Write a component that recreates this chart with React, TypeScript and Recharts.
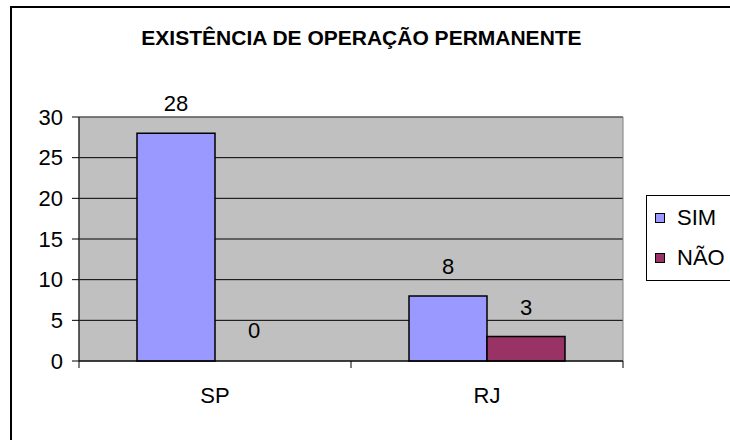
import { Bar, BarChart, CartesianGrid, Cell, LabelList, Legend, ReferenceArea, XAxis, YAxis } from "recharts"

// values

const categories = ["SP", "RJ"]
const simValues = [28, 8]
const naoValues = [0, 3]
const yTicks = [0, 5, 10, 15, 20, 25, 30]
const seriesNames = ["SIM", "NÃO"]
const seriesColors = ["#9999FF", "#993366"]
const title = "EXISTÊNCIA DE OPERAÇÃO PERMANENTE"

const data = categories.map((name, i) => ({ name, sim: simValues[i], nao: naoValues[i] }))

const font = '"Liberation Sans", Arial, sans-serif'

const W = 730
const H = 440
const margin = { top: 117, right: 107, left: 0, bottom: 0 }
const yAxisWidth = 79
const band = (W - margin.left - margin.right - yAxisWidth) / categories.length
const labelGap = 26

// category label plus Excel style tick marks between the categories
const CategoryTick = (props: any) => {
  const { x, y, payload, index } = props
  const axisY = y - labelGap
  return (
    <g>
      <line x1={x - band / 2} x2={x - band / 2} y1={axisY} y2={axisY + 7} stroke="#000" />
      {index === categories.length - 1 && (
        <line x1={x + band / 2} x2={x + band / 2} y1={axisY} y2={axisY + 7} stroke="#000" />
      )}
      <text x={x} y={y} dy="0.71em" textAnchor="middle" fontSize={22} fill="#000">
        {payload.value}
      </text>
    </g>
  )
}

const ValueLabel = (props: any) => {
  const { x, y, width, value } = props
  return (
    <text x={x + width / 2} y={y - 22} textAnchor="middle" fontSize={22} fill="#000">
      {String(value)}
    </text>
  )
}

// the legend box runs off the right edge of the picture
const renderLegend = () => (
  <div
    style={{
      borderTop: "1px solid #000",
      borderLeft: "1px solid #000",
      borderBottom: "1px solid #000",
      background: "#fff",
      width: 90,
      height: 86,
      boxSizing: "border-box",
      paddingTop: 2,
      fontFamily: font,
      fontSize: 22,
      color: "#000",
    }}
  >
    {seriesNames.map((n, i) => (
      <div key={n} style={{ display: "flex", alignItems: "center", height: 40 }}>
        <span
          style={{
            display: "inline-block",
            width: 8,
            height: 8,
            border: "1px solid #000",
            background: seriesColors[i],
            marginLeft: 8,
            marginRight: 12,
          }}
        />
        <span>{n}</span>
      </div>
    ))}
  </div>
)

export default function App() {
  return (
    <div style={{ position: "absolute", left: 0, top: 0, width: W, height: H, overflow: "hidden", background: "#fff" }}>
      <div
        style={{
          position: "absolute",
          left: 10,
          top: 6,
          width: 800,
          height: 500,
          borderLeft: "2px solid #000",
          borderTop: "2px solid #000",
        }}
      />
      <div
        style={{
          position: "absolute",
          left: 0,
          top: 26,
          width: 723,
          textAlign: "center",
          fontFamily: font,
          fontWeight: "bold",
          fontSize: 21,
          lineHeight: "24px",
          whiteSpace: "pre",
        }}
      >
        {title}
      </div>
      <BarChart
        width={W}
        height={H}
        data={data}
        margin={margin}
        barGap={0}
        style={{ position: "absolute", left: 0, top: 0, fontFamily: font }}
      >
        <CartesianGrid vertical={false} fill="#C0C0C0" stroke="#000" fillOpacity={1} />
        <ReferenceArea y1={0} y2={30} fill="none" stroke="#808080" strokeWidth={1} ifOverflow="visible" />
        <XAxis
          dataKey="name"
          tickLine={false}
          axisLine={{ stroke: "#000" }}
          tickSize={0}
          tickMargin={labelGap}
          height={79}
          tick={<CategoryTick />}
        />
        <YAxis
          domain={[0, 30]}
          ticks={yTicks}
          width={yAxisWidth}
          tickSize={7}
          tickMargin={9}
          tickLine={{ stroke: "#000" }}
          axisLine={{ stroke: "#000" }}
          tick={{ fill: "#000", fontSize: 22 }}
        />
        <Legend
          layout="horizontal"
          verticalAlign="middle"
          content={renderLegend}
          wrapperStyle={{ left: 646, top: 195, width: 90, height: 86 }}
        />
        <Bar dataKey="sim" name={seriesNames[0]} fill={seriesColors[0]} stroke="#000" strokeWidth={1.5} barSize={78} isAnimationActive={false}>
          <LabelList dataKey="sim" content={<ValueLabel />} />
        </Bar>
        <Bar dataKey="nao" name={seriesNames[1]} fill={seriesColors[1]} strokeWidth={1.5} barSize={78} minPointSize={1} isAnimationActive={false}>
          {naoValues.map((v, i) => (
            <Cell key={i} stroke={v > 0 ? "#000" : "none"} fill={v > 0 ? seriesColors[1] : "none"} />
          ))}
          <LabelList dataKey="nao" content={<ValueLabel />} />
        </Bar>
      </BarChart>
    </div>
  )
}
